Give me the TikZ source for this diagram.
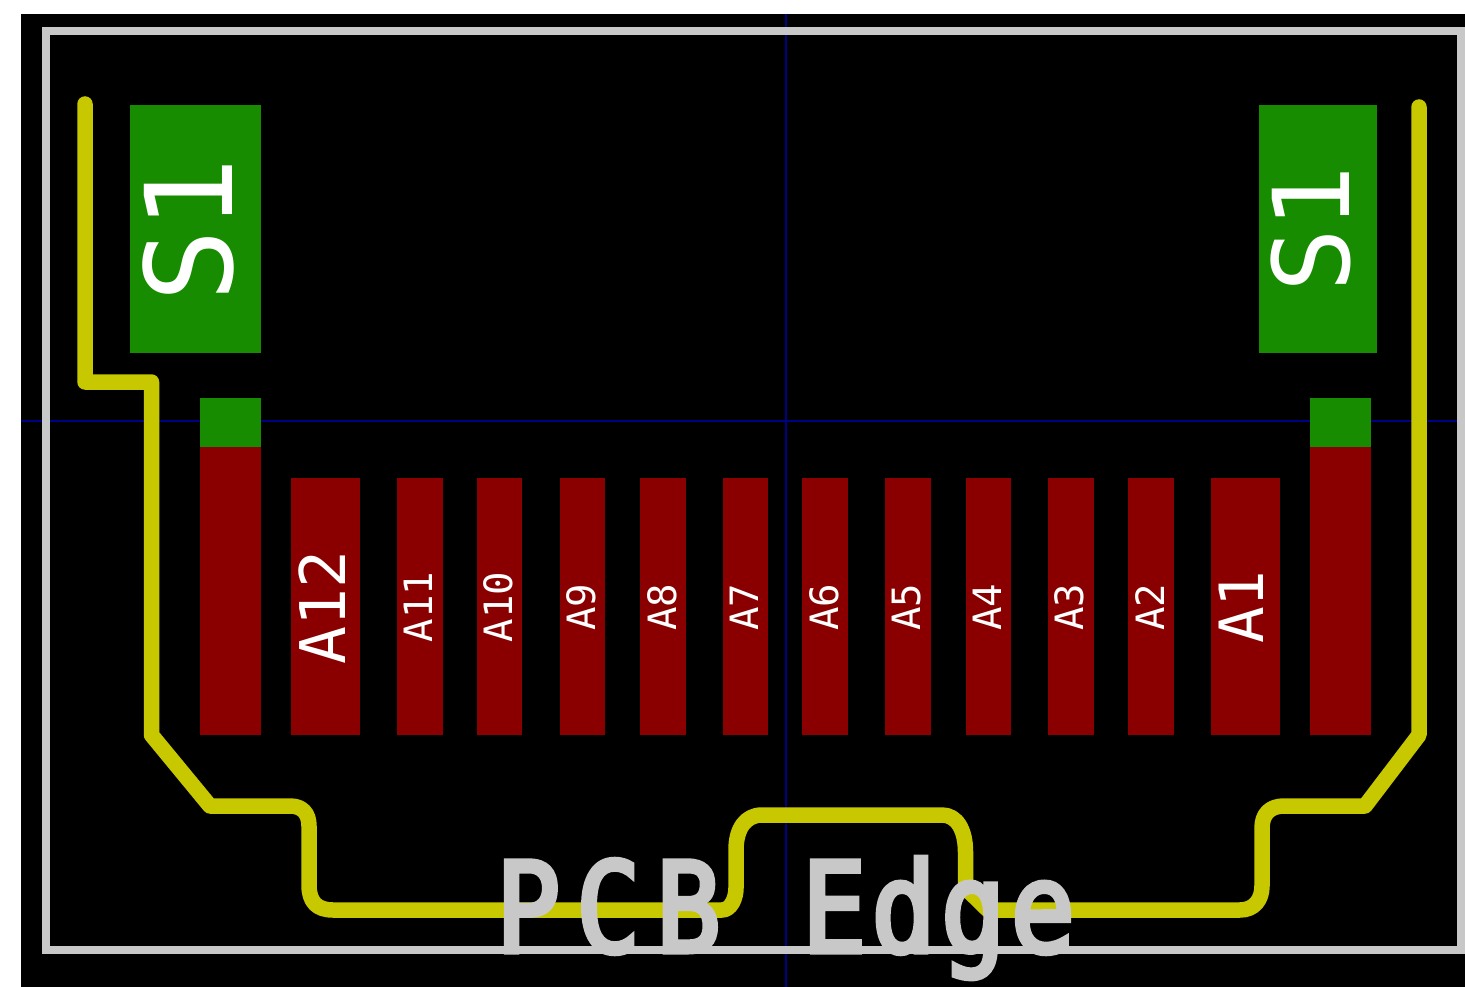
\documentclass[tikz,border=0pt]{standalone}
\usepackage{fontspec}
\setmonofont{DejaVu Sans Mono}
\newfontfamily\edgefont[FakeBold=4,FakeStretch=0.85,LetterSpace=13]{DejaVu Sans Mono}
\newfontfamily\edgefontnarrow[FakeBold=4,FakeStretch=0.85,LetterSpace=4.5]{DejaVu Sans Mono}
\definecolor{trackyellow}{HTML}{C8C800}
\definecolor{padgreen}{HTML}{178C00}
\definecolor{padred}{HTML}{8A0000}
\definecolor{edgegray}{HTML}{C8C8C8}
\definecolor{axisblue}{HTML}{000084}
\tikzset{
  padlabel/.style={text=white,inner sep=0pt,rotate=90,font=\ttfamily},
  redpad/.style={fill=padred},
  greenpad/.style={fill=padgreen},
  track/.style={draw=trackyellow,line width=15.5pt,line cap=round,line join=round},
  axisline/.style={draw=axisblue,line width=2pt},
  edgeline/.style={draw=edgegray,line width=8pt,line join=miter},
  edgetext/.style={text=edgegray,inner sep=0pt,anchor=base west},
}
\begin{document}
\begin{tikzpicture}[x=1pt,y=-1pt]
\useasboundingbox (0,0) rectangle (1465,987);
\fill[black] (21,14) rectangle (1465,987);
\coordinate (hl) at (21,421); \coordinate (hr) at (1465,421);
\coordinate (vt) at (785.7,14); \coordinate (vb) at (785.7,987);
\draw[axisline] (hl) -- (hr);
\draw[axisline] (vt) -- (vb);
% shield pads
\fill[greenpad] (130,105) rectangle (261,353);
\fill[greenpad] (1259,105) rectangle (1376.5,353);
\fill[greenpad] (200,398) rectangle (261,447);
\fill[greenpad] (1310,398) rectangle (1371,447);
\fill[redpad] (200,447) rectangle (261,735);
\fill[redpad] (1310,447) rectangle (1371,735);
% contact pads
\foreach \xa/\xb in {291/360,397/443,477/522,560/605,640/686,723/768,802/848,885/931,966/1011,1048/1094,1128/1174,1211/1280}
  \fill[redpad] (\xa,478) rectangle (\xb,735);
% track
\draw[track] (85,104) -- (85,382) -- (151.5,382) -- (151.5,735) -- (210,806) -- (290,806)
  .. controls (302,806) and (309,813) .. (309,826) -- (309,885)
  .. controls (309,902) and (317,910) .. (333,910) -- (722,910)
  .. controls (731,910) and (736,898) .. (736,888) -- (736,850)
  .. controls (736,828) and (746,815) .. (762,815) -- (942,815)
  .. controls (957,815) and (965.5,830) .. (965.5,852) -- (965.5,888) -- (988,910) -- (1240,910)
  .. controls (1254,910) and (1262,900) .. (1262,886) -- (1262,828)
  .. controls (1262,814) and (1270,806) .. (1284,806) -- (1365,806) -- (1419,735) -- (1419,107);
% board edge
\draw[edgeline] (46,31) rectangle (1461,950);
% labels
\node[padlabel,font=\ttfamily\fontsize{121}{121}\selectfont] (s1l) at (188,230) {S1};
\node[padlabel,font=\ttfamily\fontsize{106}{106}\selectfont] (s1r) at (1310.5,229) {S1};
\node[padlabel,font=\ttfamily\fontsize{63}{63}\selectfont] (a12) at (322,607.5) {A12};
\node[padlabel,font=\ttfamily\fontsize{39}{39}\selectfont] (a11) at (418,607) {A11};
\node[padlabel,font=\ttfamily\fontsize{39}{39}\selectfont] (a10) at (498,607) {A10};
\node[padlabel,font=\ttfamily\fontsize{39}{39}\selectfont] (a9) at (581,607) {A9};
\node[padlabel,font=\ttfamily\fontsize{39}{39}\selectfont] (a8) at (662,607) {A8};
\node[padlabel,font=\ttfamily\fontsize{39}{39}\selectfont] (a7) at (744,607) {A7};
\node[padlabel,font=\ttfamily\fontsize{39}{39}\selectfont] (a6) at (824,607) {A6};
\node[padlabel,font=\ttfamily\fontsize{39}{39}\selectfont] (a5) at (907,607) {A5};
\node[padlabel,font=\ttfamily\fontsize{39}{39}\selectfont] (a4) at (987,607) {A4};
\node[padlabel,font=\ttfamily\fontsize{39}{39}\selectfont] (a3) at (1069,607) {A3};
\node[padlabel,font=\ttfamily\fontsize{39}{39}\selectfont] (a2) at (1150,607) {A2};
\node[padlabel,font=\ttfamily\fontsize{61}{61}\selectfont] (a1) at (1241,607) {A1};
\node[edgetext,font=\edgefont\fontsize{125}{125}\selectfont] (pcb) at (496,952) {PCB};
\node[edgetext,font=\edgefontnarrow\fontsize{125}{125}\selectfont] (edge) at (802,952) {Edge};
\end{tikzpicture}
\end{document}
